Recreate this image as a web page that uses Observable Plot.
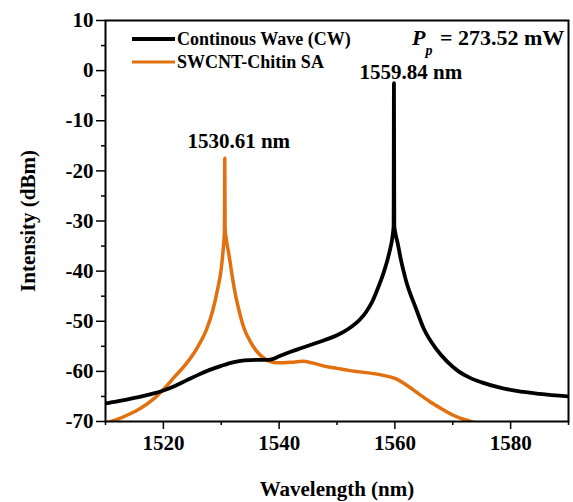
<!DOCTYPE html>
<html>
<head>
<meta charset="utf-8">
<script src="https://cdn.jsdelivr.net/npm/d3@7"></script>
<script src="https://cdn.jsdelivr.net/npm/@observablehq/plot@0.6"></script>
<style>
  html, body { margin: 0; padding: 0; background: white; }
  #wrap { position: relative; width: 573px; height: 502px; overflow: hidden; }
  #overlay { position: absolute; left: 0; top: 0; pointer-events: none; }
  .ov { font-family: 'Liberation Serif', 'Times New Roman', serif; font-weight: bold; fill: black; }
</style>
</head>
<body>
<div id="wrap"></div>
<script>
// ---- data ----
const seriesNames = ["Continous Wave (CW)", "SWCNT-Chitin SA"];
const seriesColors = ["#000000", "#E2700E"];
const xTitle = "Wavelength (nm)";
const yTitle = "Intensity (dBm)";

const cwWavelength = [1510, 1512, 1515, 1518, 1520, 1522, 1524, 1526, 1528, 1530, 1532, 1534, 1536, 1538, 1539, 1540, 1542, 1544, 1546, 1548, 1550, 1552, 1554, 1555, 1556, 1557, 1558, 1559, 1559.6, 1559.78, 1559.84, 1559.9, 1560.1, 1560.5, 1561, 1561.5, 1562, 1562.5, 1563.5, 1565, 1567, 1569, 1571, 1573, 1575, 1578, 1581, 1585, 1590];
const cwIntensity  = [-66.4, -66.0, -65.3, -64.5, -63.8, -62.9, -61.8, -60.7, -59.7, -58.9, -58.2, -57.8, -57.7, -57.7, -57.5, -57.0, -56.1, -55.3, -54.5, -53.7, -52.8, -51.5, -49.6, -48.2, -46.3, -43.6, -40.5, -36.5, -33.0, -31.0, -2.5, -31.0, -32.5, -34.5, -37.5, -40.0, -42.2, -44.0, -47.0, -51.5, -55.3, -58.0, -60.0, -61.3, -62.2, -63.2, -63.9, -64.5, -65.0];

const saWavelength = [1510, 1512, 1514, 1516, 1518, 1520, 1522, 1524, 1526, 1527.5, 1528.5, 1529.3, 1530.0, 1530.35, 1530.55, 1530.61, 1530.66, 1530.85, 1531.3, 1531.8, 1532.3, 1533.0, 1534.0, 1535.0, 1536.0, 1537.0, 1538.0, 1539.0, 1540, 1542, 1544, 1546, 1548, 1550, 1552, 1554, 1556, 1558, 1560, 1562, 1564, 1566, 1568, 1570, 1572, 1574, 1575];
const saIntensity  = [-70.3, -69.6, -68.6, -67.4, -65.8, -63.6, -61.0, -58.4, -55.0, -51.5, -48.0, -44.0, -39.5, -35.5, -32.0, -17.5, -31.5, -33.5, -36.5, -40.3, -43.8, -47.5, -51.6, -54.0, -55.8, -57.0, -57.8, -58.2, -58.3, -58.2, -58.0, -58.4, -59.0, -59.4, -59.8, -60.1, -60.4, -60.8, -61.4, -62.7, -64.4, -66.0, -67.4, -68.7, -69.6, -70.3, -70.6];

const peakWavelength = [1530.61, 1559.84];
const peakIntensity = [-17.5, -2.5];

const xMajorTicks = [1520, 1540, 1560, 1580];
const xMinorTicks = [1510, 1530, 1550, 1570, 1590];
const yMajorTicks = [-70, -60, -50, -40, -30, -20, -10, 0, 10];
const yMinorTicks = [-65, -55, -45, -35, -25, -15, -5, 5];

const pumpPower = "273.52 mW";

// ---- build tables ----
const cw = cwWavelength.map((w, i) => ({wl: w, db: cwIntensity[i]}));
const sa = saWavelength.map((w, i) => ({wl: w, db: saIntensity[i]}));
const peaks = peakWavelength.map((w, i) => ({wl: w, db: peakIntensity[i], label: w.toFixed(2) + " nm"}));

const font = "'Liberation Serif', 'Times New Roman', serif";

const chart = Plot.plot({
  width: 573,
  height: 502,
  marginLeft: 105,
  marginRight: 5,
  marginTop: 20,
  marginBottom: 81,
  style: {fontFamily: font, fontWeight: "bold", fontSize: "21px", color: "black", background: "white"},
  x: {domain: [1510, 1590]},
  y: {domain: [-70, 10]},
  marks: [
    Plot.line(sa, {x: "wl", y: "db", stroke: seriesColors[1], strokeWidth: 3.5, curve: "monotone-x", clip: true}),
    Plot.line(cw, {x: "wl", y: "db", stroke: seriesColors[0], strokeWidth: 3.8, curve: "monotone-x", clip: true}),
    Plot.text([peaks[0]], {x: "wl", y: "db", text: "label", lineAnchor: "bottom", dx: 14, dy: -10, fontSize: 21, fontWeight: "bold"}),
    Plot.text([peaks[1]], {x: "wl", y: "db", text: "label", lineAnchor: "bottom", dx: 17, dy: -4, fontSize: 21, fontWeight: "bold"}),
    Plot.axisX({ticks: xMinorTicks, tickSize: 4, text: null, label: null, strokeWidth: 1.5}),
    Plot.axisX({ticks: xMajorTicks, tickSize: 8, tickPadding: 6, tickFormat: d => String(d), strokeWidth: 1.5,
      fontSize: 21, label: null}),
    Plot.axisY({ticks: yMinorTicks, tickSize: 4, text: null, label: null, strokeWidth: 1.5}),
    Plot.axisY({ticks: yMajorTicks, tickSize: 9, tickPadding: 3, tickFormat: d => String(d), strokeWidth: 1.5,
      fontSize: 21, label: null}),
    Plot.frame({stroke: "black", strokeWidth: 2})
  ]
});

const wrap = document.getElementById("wrap");
wrap.appendChild(chart);

// ---- legend, axis titles and pump-power annotation overlay ----
const ns = "http://www.w3.org/2000/svg";
const ov = document.createElementNS(ns, "svg");
ov.setAttribute("id", "overlay");
ov.setAttribute("width", 573);
ov.setAttribute("height", 502);
function txt(x, y, size, content, anchor) {
  const t = document.createElementNS(ns, "text");
  t.setAttribute("class", "ov");
  t.setAttribute("x", x);
  t.setAttribute("y", y);
  t.setAttribute("font-size", size);
  if (anchor) t.setAttribute("text-anchor", anchor);
  t.textContent = content;
  ov.appendChild(t);
  return t;
}
const legendRows = [39, 62];
seriesNames.forEach((name, i) => {
  const ln = document.createElementNS(ns, "line");
  ln.setAttribute("x1", 132); ln.setAttribute("x2", 175);
  ln.setAttribute("y1", legendRows[i]); ln.setAttribute("y2", legendRows[i]);
  ln.setAttribute("stroke", seriesColors[i]);
  ln.setAttribute("stroke-width", i === 0 ? 4 : 3);
  ov.appendChild(ln);
  txt(177, legendRows[i] + 6, 18, name);
});
// axis titles
txt(337, 496, 21, xTitle, "middle");
const yt = txt(0, 0, 21, yTitle, "middle");
yt.setAttribute("transform", "translate(35,221) rotate(-90)");

const pt = txt(412, 45, 22, "");
const tP = document.createElementNS(ns, "tspan");
tP.setAttribute("font-style", "italic");
tP.textContent = "P";
const tSub = document.createElementNS(ns, "tspan");
tSub.setAttribute("font-style", "italic");
tSub.setAttribute("font-size", 14);
tSub.setAttribute("dy", 10);
tSub.textContent = "p";
const tRest = document.createElementNS(ns, "tspan");
tRest.setAttribute("dy", -10);
tRest.setAttribute("dx", 2);
tRest.textContent = " = " + pumpPower;
pt.appendChild(tP); pt.appendChild(tSub); pt.appendChild(tRest);
wrap.appendChild(ov);
</script>
</body>
</html>
